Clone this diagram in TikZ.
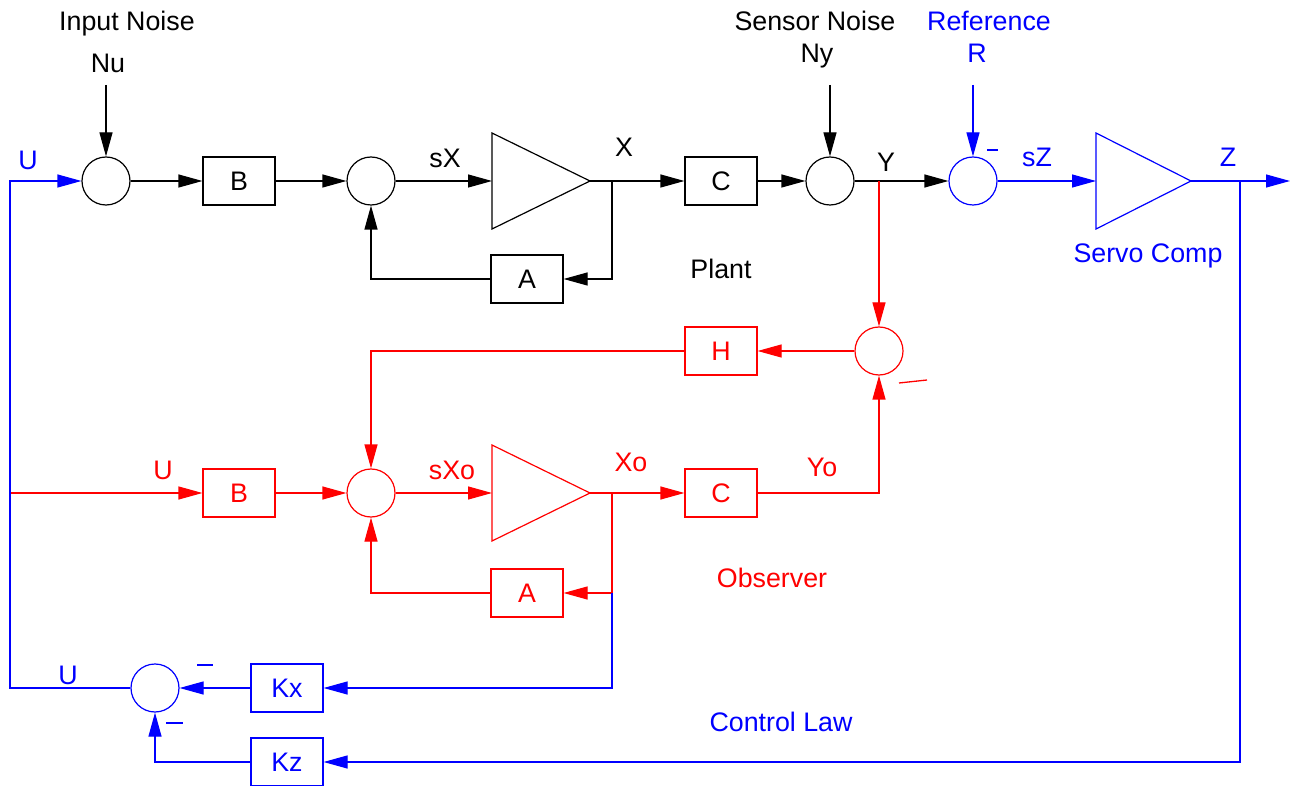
\documentclass[tikz,border=0pt]{standalone}
\usepackage{fontspec}
\setmainfont{Liberation Sans}
\usetikzlibrary{arrows.meta}
\newcommand\lbfont{\fontsize{26.8}{31}\selectfont}
\begin{document}
\begin{tikzpicture}[x=1pt,y=-1pt,
  line width=1.2pt,
  sumj/.style={circle, draw, minimum size=48pt, inner sep=0pt},
  blk/.style={draw, minimum width=72pt, minimum height=48pt, inner sep=0pt, font=\lbfont},
  arr/.style={-{Triangle[length=24pt,width=13pt]}},
  lbl/.style={font=\lbfont, inner sep=0pt, text depth=0pt},
  minus/.style={line width=1.3pt}]
\useasboundingbox (0,0) rectangle (1294,786);
\definecolor{pblue}{RGB}{0,0,255}
\definecolor{pred}{RGB}{255,0,0}

% ---------- Plant (black) ----------
\node[sumj] (s1) at (106,181) {};
\node[blk] (B1) at (239,181) {B};
\node[sumj] (s2) at (371,181) {};
\coordinate (t1in) at (492,181);
\coordinate (t1out) at (590,181);
\draw (492,133) -- (t1out) -- (492,229) -- cycle;
\node[blk] (C1) at (721,181) {C};
\node[sumj] (s3) at (830,181) {};
\node[blk] (A1) at (527,279) {A};
\coordinate (nu) at (106,85);
\coordinate (ny) at (830,85);
\coordinate (xb) at (612,181);

\draw[arr] (nu) -- (s1.north);
\draw[arr] (ny) -- (s3.north);
\draw[arr] (s1) -- (B1);
\draw[arr] (B1) -- (s2);
\draw[arr] (s2) -- (t1in);
\draw[arr] (t1out) -- (C1);
\draw[arr] (xb) |- (A1.east);
\draw[arr] (A1.west) -| (s2.south);
\draw[arr] (C1) -- (s3);

% ---------- Servo (blue) ----------
\node[sumj, draw=pblue] (s4) at (973,181) {};
\coordinate (t2in) at (1096,181);
\coordinate (t2out) at (1191,181);
\draw[pblue] (1096,133) -- (t2out) -- (1096,229) -- cycle;
\coordinate (zout) at (1290,181);
\coordinate (zb) at (1240,181);
\coordinate (rin) at (973,85);
\draw[arr] (s3) -- (s4);
\draw[arr, pblue] (rin) -- (s4.north);
\draw[arr, pblue] (s4) -- (t2in);
\draw[arr, pblue] (t2out) -- (zout);

% ---------- Observer (red) ----------
\node[sumj, draw=pred] (s5) at (879,351) {};
\node[blk, draw=pred, text=pred] (H) at (721,351) {H};
\node[sumj, draw=pred] (s6) at (371,493) {};
\node[blk, draw=pred, text=pred] (B2) at (239,493) {B};
\coordinate (t3in) at (492,493);
\coordinate (t3out) at (590,493);
\draw[pred] (492,445) -- (t3out) -- (492,541) -- cycle;
\node[blk, draw=pred, text=pred] (C2) at (721,493) {C};
\node[blk, draw=pred, text=pred] (A2) at (527,593) {A};
\coordinate (yb) at (879,181);
\coordinate (ur) at (10,493);
\coordinate (xob) at (612,493);
\coordinate (xoc) at (612,593);

\draw[arr, pred] (yb) -- (s5.north);
\draw[arr, pred] (s5.west) -- (H.east);
\draw[arr, pred] (H.west) -| (s6.north);
\draw[arr, pred] (ur) -- (B2.west);
\draw[arr, pred] (B2) -- (s6);
\draw[arr, pred] (s6) -- (t3in);
\draw[arr, pred] (t3out) -- (C2);
\draw[arr, pred] (C2.east) -| (s5.south);
\draw[arr, pred] (xob) |- (A2.east);
\draw[arr, pred] (A2.west) -| (s6.south);

% ---------- Control law (blue) ----------
\node[sumj, draw=pblue] (s7) at (155,688) {};
\node[blk, draw=pblue, text=pblue] (Kx) at (287,688) {Kx};
\node[blk, draw=pblue, text=pblue] (Kz) at (287,762) {Kz};
\coordinate (ul) at (10,688);
\coordinate (ut) at (10,181);
\coordinate (kxc) at (612,688);

\draw[arr, pblue] (s7.west) -- (ul) -- (ut) -- (s1.west);
\draw[arr, pblue] (xoc) -- (kxc) -- (Kx.east);
\draw[arr, pblue] (Kx) -- (s7);
\draw[arr, pblue] (zb) |- (Kz.east);
\draw[arr, pblue] (Kz.west) -| (s7.south);

% ---------- minus signs ----------
\draw[minus, pblue] (987,150) -- (998,150);
\draw[minus, pred] (899,383) -- (927,380);
\draw[minus, pblue] (197,665) -- (213,665);
\draw[minus, pblue] (166,723) -- (183,723);

% ---------- labels ----------
\node[lbl] (lInNoise) at (127,21) {Input Noise};
\node[lbl] (lNu) at (108,63) {Nu};
\node[lbl, text=pblue] (lU1) at (28,160) {U};
\node[lbl] (lsX) at (445,158) {sX};
\node[lbl] (lX) at (624,147) {X};
\node[lbl] (lSensNoise) at (815,21) {Sensor Noise};
\node[lbl] (lNy) at (817,53) {Ny};
\node[lbl] (lY) at (886,162) {Y};
\node[lbl, text=pblue] (lRef) at (989,21) {Reference};
\node[lbl, text=pblue] (lR) at (977,53) {R};
\node[lbl, text=pblue] (lsZ) at (1037,157) {sZ};
\node[lbl, text=pblue] (lZ) at (1228,157) {Z};
\node[lbl, text=pblue] (lServo) at (1148,253) {Servo Comp};
\node[lbl] (lPlant) at (721,269) {Plant};
\node[lbl, text=pred] (lU2) at (163,470) {U};
\node[lbl, text=pred] (lsXo) at (452,470) {sXo};
\node[lbl, text=pred] (lXo) at (631,462) {Xo};
\node[lbl, text=pred] (lYo) at (822,467) {Yo};
\node[lbl, text=pred] (lObs) at (772,578) {Observer};
\node[lbl, text=pblue] (lU3) at (68,675) {U};
\node[lbl, text=pblue] (lCtrl) at (781,722) {Control Law};
\end{tikzpicture}
\end{document}
